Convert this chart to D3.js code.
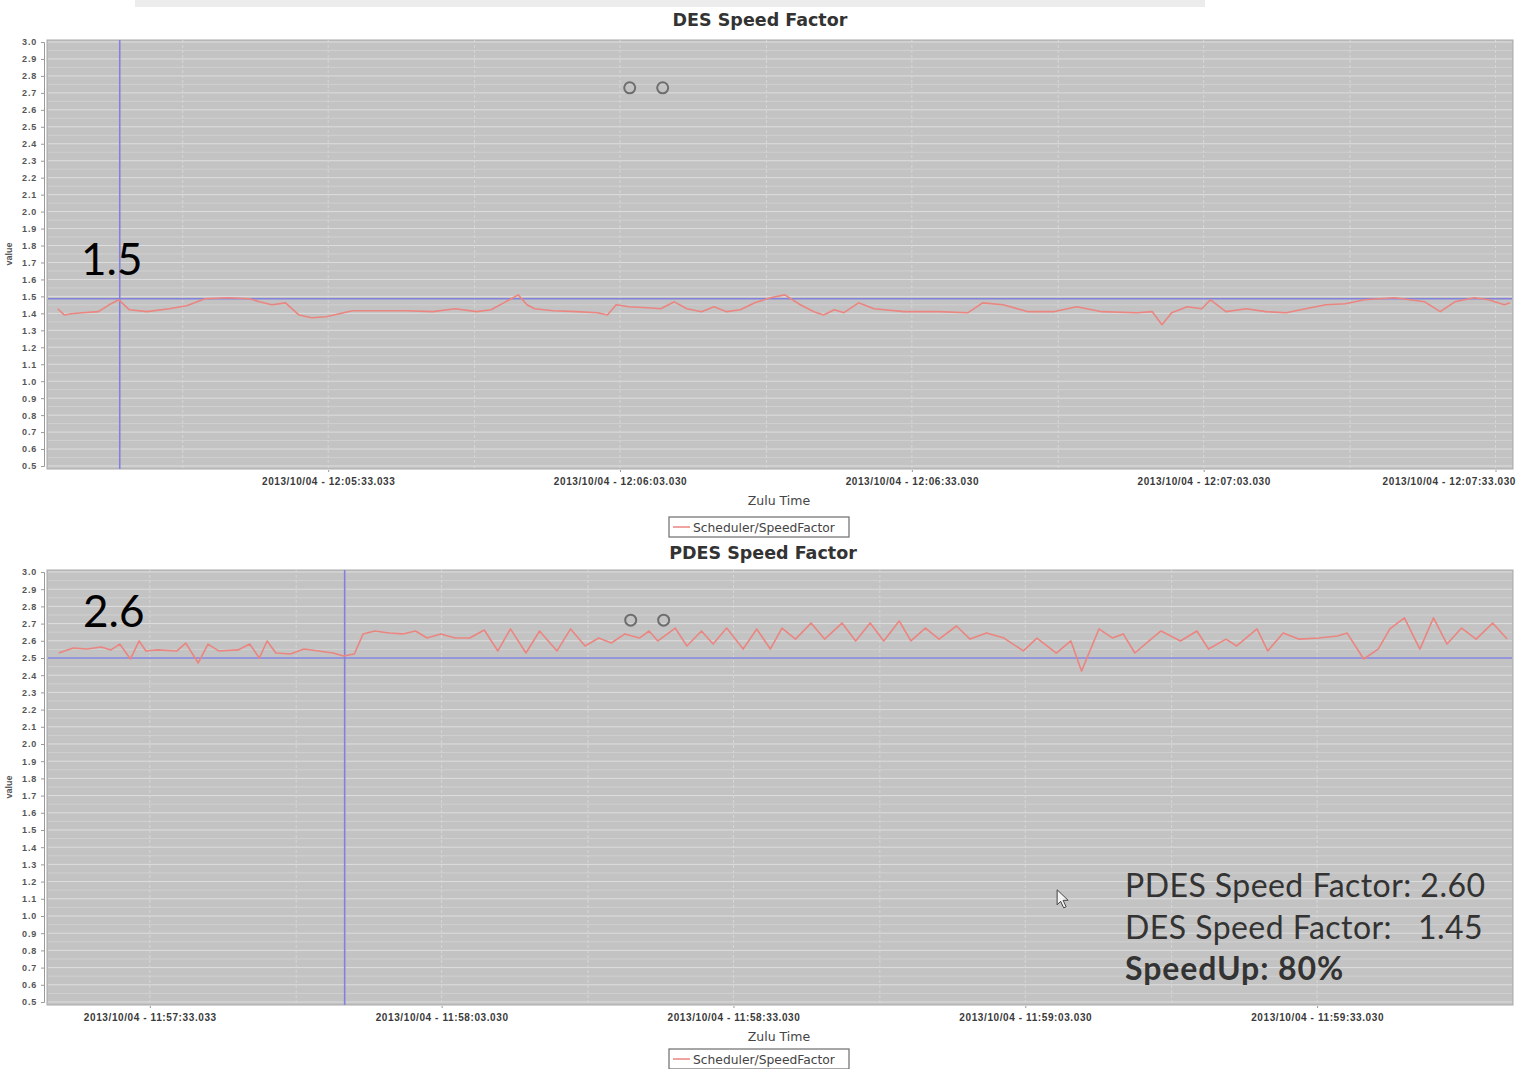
<!DOCTYPE html>
<html><head><meta charset="utf-8">
<script src="https://cdn.jsdelivr.net/npm/d3@7"></script>
<style>body{margin:0;background:#fff}svg{display:block}</style>
</head><body>
<svg id="c" width="1518" height="1069"></svg>
<script>
// ---- DATA ----
const desTimes = [1.0,1.7,2.4,3.5,5.2,6.5,7.3,8.4,10.2,12.5,14.3,16.2,18.5,20.8,21.8,23.1,24.5,25.9,27.2,28.7,30.5,31.4,34.1,36.9,39.7,42.0,44.2,45.7,47.0,48.5,49.4,50.2,52.1,54.5,56.7,57.7,58.6,59.9,61.8,63.2,64.6,65.9,67.4,68.7,70.0,71.4,72.9,74.5,76.0,77.6,79.0,80.0,81.1,82.1,83.6,85.2,88.3,91.9,94.9,96.4,98.5,101.1,103.7,106.1,108.7,112.3,113.9,114.9,115.9,117.5,119.0,119.9,121.5,123.6,125.6,127.7,129.7,131.8,133.8,135.8,138.9,142.0,143.6,145.1,147.1,148.6,150.2,150.8];
const desValues = [1.427,1.39,1.398,1.404,1.41,1.457,1.48,1.421,1.41,1.427,1.445,1.486,1.492,1.486,1.468,1.451,1.462,1.39,1.374,1.38,1.404,1.415,1.415,1.415,1.41,1.427,1.41,1.421,1.462,1.509,1.451,1.427,1.415,1.41,1.404,1.39,1.451,1.439,1.433,1.427,1.468,1.427,1.41,1.439,1.41,1.421,1.462,1.492,1.509,1.451,1.41,1.39,1.421,1.404,1.462,1.427,1.41,1.41,1.404,1.462,1.451,1.41,1.41,1.439,1.41,1.404,1.41,1.333,1.404,1.439,1.427,1.48,1.41,1.427,1.41,1.404,1.427,1.451,1.457,1.48,1.492,1.468,1.41,1.468,1.492,1.48,1.451,1.462];

const pdesTimes = [1.1,2.6,4.0,5.5,6.5,7.4,8.5,9.4,10.1,11.3,13.3,14.2,15.5,16.5,17.6,19.6,20.8,21.8,22.6,23.5,25.0,26.4,27.9,29.4,30.5,31.6,32.5,33.7,35.2,36.6,37.9,39.1,40.5,42.0,43.5,45.0,46.4,47.7,49.3,50.7,52.5,53.9,55.4,56.8,58.1,59.5,61.0,62.0,62.9,64.7,65.9,67.4,68.6,70.0,71.7,73.1,74.5,75.7,77.1,78.7,80.1,81.9,83.3,84.8,86.2,87.8,89.0,90.5,91.9,93.7,95.1,96.8,98.6,100.6,102.0,104.0,105.5,106.6,108.4,109.8,110.9,112.1,113.9,114.8,116.8,118.5,119.7,121.5,122.6,124.7,125.8,127.4,129.0,131.1,133.0,134.0,135.7,137.2,138.4,139.9,141.5,142.9,144.3,145.8,147.3,149.0,150.5];
const pdesValues = [2.529,2.558,2.552,2.564,2.547,2.581,2.494,2.599,2.541,2.547,2.541,2.587,2.471,2.581,2.541,2.547,2.581,2.5,2.599,2.529,2.523,2.552,2.541,2.529,2.512,2.523,2.64,2.657,2.645,2.64,2.657,2.616,2.64,2.616,2.616,2.663,2.541,2.669,2.529,2.657,2.541,2.669,2.57,2.616,2.587,2.64,2.616,2.657,2.599,2.674,2.57,2.657,2.581,2.674,2.552,2.669,2.552,2.674,2.61,2.703,2.61,2.703,2.599,2.703,2.599,2.715,2.599,2.674,2.61,2.686,2.61,2.645,2.616,2.541,2.616,2.529,2.599,2.424,2.669,2.616,2.64,2.529,2.616,2.657,2.599,2.657,2.552,2.61,2.57,2.669,2.541,2.645,2.61,2.616,2.628,2.645,2.494,2.552,2.669,2.733,2.552,2.733,2.581,2.674,2.61,2.703,2.61];

const yTicks = [0.5,0.6,0.7,0.8,0.9,1.0,1.1,1.2,1.3,1.4,1.5,1.6,1.7,1.8,1.9,2.0,2.1,2.2,2.3,2.4,2.5,2.6,2.7,2.8,2.9,3.0];
const desTickTimes = [28.9,59.0,89.1,119.2,149.3];
const desTickLabels = ["2013/10/04 - 12:05:33.033","2013/10/04 - 12:06:03.030","2013/10/04 - 12:06:33.030","2013/10/04 - 12:07:03.030","2013/10/04 - 12:07:33.030"];
const pdesTickTimes = [10.5,40.6,70.7,100.8,130.9];
const pdesTickLabels = ["2013/10/04 - 11:57:33.033","2013/10/04 - 11:58:03.030","2013/10/04 - 11:58:33.030","2013/10/04 - 11:59:03.030","2013/10/04 - 11:59:33.030"];
const desCrosshair = [7.4, 1.486];
const pdesCrosshair = [30.6, 2.5];
const desMarkers = [[60.0,2.73],[63.4,2.73]];
const pdesMarkers = [[60.1,2.72],[63.5,2.72]];
const desCallout = "1.5";
const pdesCallout = "2.6";
const summaryLines = ["PDES Speed Factor: 2.60","DES Speed Factor:   1.45","SpeedUp: 80%"];
const legendLabel = "Scheduler/SpeedFactor";
const cursorPos = [104.6, 1.10];

// ---- DRAW ----
const svg = d3.select("#c");
svg.append("rect").attr("x",135).attr("y",0).attr("width",1070).attr("height",7).attr("fill","#ececec");

function drawChart(o){
  const g = svg.append("g");
  const x = d3.scaleLinear().domain([0,151]).range([48,1512]);
  const y = d3.scaleLinear().domain([0.5,3.0]).range([o.yBottom,o.yTop]);
  g.append("rect").attr("x",47).attr("y",o.yTop-2).attr("width",1466).attr("height",o.yBottom-o.yTop+5)
    .attr("fill","#c3c3c3").attr("stroke","#a9a9a9").attr("stroke-width",1);
  const halfTicks = yTicks.slice(0,-1).map(d=>d+0.05);
  g.selectAll(".hg2").data(halfTicks).join("line")
    .attr("x1",48).attr("x2",1512).attr("y1",d=>y(d)).attr("y2",d=>y(d))
    .attr("stroke","#d0d0d0").attr("stroke-width",1);
  g.selectAll(".hg").data(yTicks).join("line")
    .attr("x1",48).attr("x2",1512).attr("y1",d=>y(d)).attr("y2",d=>y(d))
    .attr("stroke","#dedede").attr("stroke-width",1);
  const vg = o.tickTimes.concat(o.tickTimes.map(d=>d-15)).filter(d=>d>0 && d<151);
  g.selectAll(".vg").data(vg).join("line")
    .attr("x1",d=>x(d)).attr("x2",d=>x(d)).attr("y1",o.yTop-2).attr("y2",o.yBottom+3)
    .attr("stroke","#d6d6d6").attr("stroke-width",1).attr("stroke-dasharray","3,2");
  g.append("line").attr("x1",48).attr("x2",1512).attr("y1",y(o.cross[1])).attr("y2",y(o.cross[1]))
    .attr("stroke","#8282dc").attr("stroke-width",1.6);
  g.append("line").attr("x1",x(o.cross[0])).attr("x2",x(o.cross[0])).attr("y1",o.yTop-2).attr("y2",o.yBottom+3)
    .attr("stroke","#8282dc").attr("stroke-width",1.6);
  const pts = o.times.map((t,i)=>[t,o.values[i]]);
  g.append("path").datum(pts)
    .attr("d",d3.line().x(d=>x(d[0])).y(d=>y(d[1])))
    .attr("fill","none").attr("stroke","#eb8580").attr("stroke-width",1.6).attr("stroke-linejoin","round");
  g.selectAll(".mk").data(o.markers).join("circle")
    .attr("cx",d=>x(d[0])).attr("cy",d=>y(d[1])).attr("r",5.5)
    .attr("fill","none").attr("stroke","#6e6e6e").attr("stroke-width",2);
  // y axis
  const ya = g.append("g").attr("transform","translate(44,0)")
    .call(d3.axisLeft(y).tickValues(yTicks).tickFormat(d3.format(".1f")).tickSize(3).tickPadding(4));
  ya.select(".domain").attr("stroke","#9a9a9a");
  ya.selectAll(".tick line").attr("stroke","#9a9a9a");
  ya.selectAll("text").attr("font-family","Liberation Sans, Arial").attr("font-size",9).attr("font-weight","bold")
    .attr("letter-spacing",0.8).attr("fill","#555");
  g.append("text").attr("transform",`translate(12,${(o.yTop+o.yBottom)/2}) rotate(-90)`)
    .attr("text-anchor","middle").attr("font-family","Liberation Sans, Arial").attr("font-size",9).attr("font-weight","bold").attr("fill","#555").text("value");
  // x axis labels
  const xa = g.append("g").attr("transform",`translate(0,${o.yBottom+4})`)
    .call(d3.axisBottom(x).tickValues(o.tickTimes).tickFormat((d,i)=>o.tickLabels[i]).tickSize(2).tickPadding(6));
  xa.select(".domain").attr("stroke","none");
  xa.selectAll(".tick line").attr("stroke","#999");
  xa.selectAll("text").attr("font-family","Liberation Sans, Arial").attr("font-size",10).attr("font-weight","bold")
    .attr("letter-spacing",0.6).attr("fill","#3a3a3a");
  // keep the last label inside the page
  xa.selectAll(".tick text").each(function(){
    const b = this.getBBox(); const tr = this.parentNode.getAttribute("transform");
    const tx = +tr.match(/translate\(([-\d.]+)/)[1];
    if (tx + b.x + b.width > 1516) d3.select(this).attr("text-anchor","end").attr("x",1516-tx);
  });
  g.append("text").attr("x",779).attr("y",o.yBottom+39).attr("text-anchor","middle")
    .attr("font-family","DejaVu Sans, Verdana").attr("font-size",12.5).attr("fill","#444").text("Zulu Time");
  // legend
  const lg = g.append("g").attr("transform",`translate(669,${o.yBottom+o.legendDy})`);
  lg.append("rect").attr("width",180).attr("height",20).attr("fill","#fff").attr("stroke","#777").attr("stroke-width",1.3);
  lg.append("line").attr("x1",4).attr("x2",21).attr("y1",10).attr("y2",10).attr("stroke","#eb8580").attr("stroke-width",1.5);
  lg.append("text").attr("x",24).attr("y",14.5).attr("font-family","DejaVu Sans, Verdana").attr("font-size",12.3).attr("fill","#444").text(legendLabel);
  // title
  svg.append("text").attr("x",o.titleX).attr("y",o.titleY).attr("text-anchor","middle")
    .attr("font-family","DejaVu Sans, Verdana").attr("font-weight","bold").attr("font-size",17.5).attr("fill","#333").text(o.title);
  // callout
  svg.append("text").attr("x",o.calloutX).attr("y",o.calloutY)
    .attr("font-family","Lato, Open Sans, sans-serif").attr("font-size",44).attr("fill","#000").text(o.callout);
  return {x,y};
}

drawChart({yTop:42,yBottom:466,legendDy:51,times:desTimes,values:desValues,tickTimes:desTickTimes,tickLabels:desTickLabels,
  cross:desCrosshair,markers:desMarkers,title:"DES Speed Factor",titleX:760,titleY:26,callout:desCallout,calloutX:81,calloutY:275});
const s2 = drawChart({yTop:572,yBottom:1002,legendDy:47,times:pdesTimes,values:pdesValues,tickTimes:pdesTickTimes,tickLabels:pdesTickLabels,
  cross:pdesCrosshair,markers:pdesMarkers,title:"PDES Speed Factor",titleX:763,titleY:559,callout:pdesCallout,calloutX:83,calloutY:627});

// summary text
svg.selectAll(".sum").data(summaryLines).join("text")
  .attr("x",1125).attr("y",(d,i)=>897+i*41.5)
  .attr("font-family","Lato, Open Sans, sans-serif").attr("font-size",32)
  .attr("letter-spacing",(d,i)=>i===2?0.9:0.45)
  .attr("font-weight",(d,i)=>i===2?"bold":"normal").attr("fill","#333")
  .attr("xml:space","preserve").style("white-space","pre").text(d=>d);

// mouse cursor
const cx = s2.x(cursorPos[0]), cy = s2.y(cursorPos[1]);
svg.append("path").attr("transform",`translate(${cx-5},${cy-9})`)
  .attr("d","M0,0 L0,15 L3.5,11.5 L6.5,18 L9,17 L6,10.5 L11,10.5 Z")
  .attr("fill","#f4f4f4").attr("stroke","#444").attr("stroke-width",1);
</script>
</body></html>
